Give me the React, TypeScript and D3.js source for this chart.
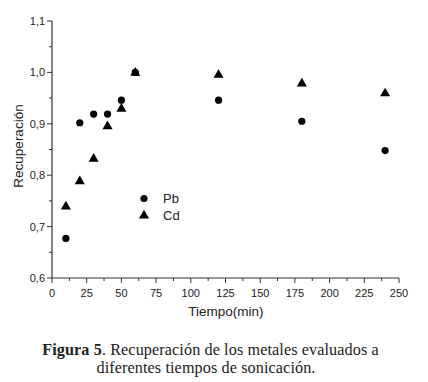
import React from "react";
import * as d3 from "d3";

const times = [10, 20, 30, 40, 50, 60, 120, 180, 240];
const pbValues = [0.677, 0.902, 0.919, 0.919, 0.946, 1.0, 0.946, 0.905, 0.848];
const cdValues = [0.74, 0.789, 0.833, 0.896, 0.93, 1.0, 0.996, 0.979, 0.96];
const xTicks = [0, 25, 50, 75, 100, 125, 150, 175, 200, 225, 250];
const yTicks = [0.6, 0.7, 0.8, 0.9, 1.0, 1.1];
const xMinor = d3.range(12.5, 250, 25);
const yMinor = [0.65, 0.75, 0.85, 0.95, 1.05];

export default function App() {
  const W = 428, H = 382;
  const x = d3.scaleLinear().domain([0, 250]).range([52, 399]);
  const y = d3.scaleLinear().domain([0.6, 1.1]).range([278, 21]);
  const axisColor = "#333";
  const font = "'Liberation Sans', Arial, sans-serif";
  const serif = "'Liberation Serif', 'DejaVu Serif', serif";
  const fmt = (v: number) => v.toFixed(1).replace(".", ",");
  const tri = d3.symbol().type(d3.symbolTriangle).size(44)();
  return (
    <svg width={W} height={H} style={{ position: "absolute", left: 0, top: 0, background: "#fff" }}>
      <rect width={W} height={H} fill="#fff" />
      {/* axes */}
      <line x1={x(0)} x2={x(250)} y1={y(0.6)} y2={y(0.6)} stroke={axisColor} strokeWidth={1.2} />
      <line x1={x(0)} x2={x(0)} y1={y(0.6)} y2={y(1.1)} stroke={axisColor} strokeWidth={1.2} />
      {xTicks.map((t) => (
        <g key={"xt" + t}>
          <line x1={x(t)} x2={x(t)} y1={y(0.6)} y2={y(0.6) + 5} stroke={axisColor} />
          <text x={x(t)} y={y(0.6) + 19} textAnchor="middle" fontSize={11} fontFamily={font} fill="#222">{t}</text>
        </g>
      ))}
      {xMinor.map((t) => (
        <line key={"xm" + t} x1={x(t)} x2={x(t)} y1={y(0.6)} y2={y(0.6) + 3} stroke={axisColor} />
      ))}
      {yTicks.map((t) => (
        <g key={"yt" + t}>
          <line x1={x(0) - 5} x2={x(0)} y1={y(t)} y2={y(t)} stroke={axisColor} />
          <text x={x(0) - 7} y={y(t) + 4} textAnchor="end" fontSize={11} fontFamily={font} fill="#222">{fmt(t)}</text>
        </g>
      ))}
      {yMinor.map((t) => (
        <line key={"ym" + t} x1={x(0) - 3} x2={x(0)} y1={y(t)} y2={y(t)} stroke={axisColor} />
      ))}
      <text x={226} y={316} textAnchor="middle" fontSize={13.5} fontFamily={font} fill="#222">Tiempo(min)</text>
      <text transform={`translate(23,146) rotate(-90)`} textAnchor="middle" fontSize={13.5} fontFamily={font} fill="#222">Recuperación</text>
      {/* data */}
      {times.map((t, i) => (
        <circle key={"pb" + i} cx={x(t)} cy={y(pbValues[i])} r={3.6} fill="#000" />
      ))}
      {times.map((t, i) => (
        <path key={"cd" + i} d={tri!} transform={`translate(${x(t)},${y(cdValues[i]) + 0.5})`} fill="#000" />
      ))}
      {/* legend */}
      <circle cx={144} cy={198.5} r={3.6} fill="#000" />
      <text x={163} y={203} fontSize={13} fontFamily={font} fill="#222">Pb</text>
      <path d={tri!} transform="translate(144,215.5)" fill="#000" />
      <text x={163} y={220} fontSize={13} fontFamily={font} fill="#222">Cd</text>
      {/* caption */}
      <text x={210.5} y={354.5} textAnchor="middle" fontFamily={serif} fill="#222" style={{ fontSize: 16.2, letterSpacing: 0.1 }}>
        <tspan fontWeight="bold">Figura 5</tspan>. Recuperación de los metales evaluados a
      </text>
      <text x={206} y={372.5} textAnchor="middle" fontFamily={serif} fill="#222" style={{ fontSize: 16.2, letterSpacing: 0.1 }}>
        diferentes tiempos de sonicación.
      </text>
    </svg>
  );
}
